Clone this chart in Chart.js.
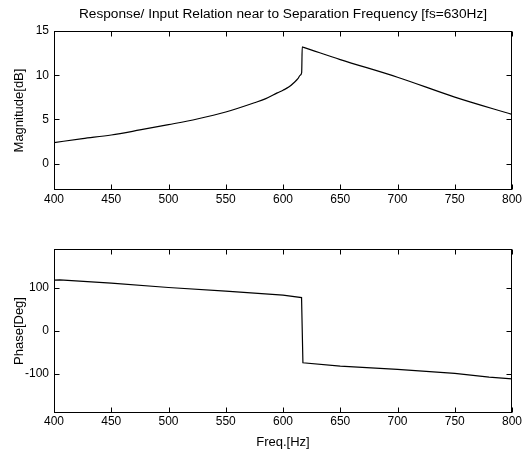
<!DOCTYPE html>
<html>
<head>
<meta charset="utf-8">
<script src="https://cdn.jsdelivr.net/npm/chart.js@4/dist/chart.umd.min.js"></script>
<style>
  html, body { margin: 0; padding: 0; background: #fff; }
  #wrap { position: relative; width: 528px; height: 454px; overflow: hidden; }
  canvas { position: absolute; left: 0; }
  #c1 { top: 0; }
  #c2 { top: 227px; }
</style>
</head>
<body>
<div id="wrap">
  <canvas id="c1" width="528" height="227"></canvas>
  <canvas id="c2" width="528" height="227"></canvas>
</div>
<script>
// ---- data ----
const magFreq = [400, 425, 450, 475, 500, 525, 550, 575, 585, 595, 600, 605, 610, 613, 615, 616.3, 616.8, 618, 650, 700, 750, 800];
const magDb   = [2.37, 2.82, 3.23, 3.80, 4.40, 5.04, 5.83, 6.88, 7.35, 8.0, 8.3, 8.65, 9.2, 9.6, 10.0, 10.3, 13.2, 13.15, 11.77, 9.77, 7.52, 5.56];

const phFreq = [400, 405, 450, 500, 550, 600, 616.2, 617.4, 650, 700, 750, 780, 800];
const phDeg  = [117.8, 118.5, 110.9, 100.8, 92.2, 83.0, 77.5, -73.6, -81.4, -89.0, -98.4, -107.0, -111.0];

const freqTicks = [400, 450, 500, 550, 600, 650, 700, 750, 800];
const magTicks  = [0, 5, 10, 15];
const phTicks   = [-100, 0, 100];

const titleText = 'Response/ Input Relation near to Separation Frequency [fs=630Hz]';
const magLabel = 'Magnitude[dB]';
const phLabel = 'Phase[Deg]';
const freqLabel = 'Freq.[Hz]';

// ---- helpers ----
const FONT = "'Liberation Sans', Arial, sans-serif";
Chart.defaults.font.family = FONT;
Chart.defaults.color = '#000';

const boxTicks = {
  id: 'boxTicks',
  afterDatasetsDraw(chart) {
    const {ctx, chartArea: a, scales: {x, y}} = chart;
    const L = Math.round(a.left) + 0.5, R = Math.round(a.right) - 0.5;
    const T = Math.round(a.top) + 0.5, B = Math.round(a.bottom) - 0.5;
    const tl = 5;
    ctx.save();
    ctx.strokeStyle = '#000';
    ctx.lineWidth = 1;
    ctx.strokeRect(L, T, R - L, B - T);
    ctx.beginPath();
    x.ticks.forEach(t => {
      const px = Math.round(x.getPixelForValue(t.value)) + 0.5;
      ctx.moveTo(px, B); ctx.lineTo(px, B - tl);
      ctx.moveTo(px, T); ctx.lineTo(px, T + tl);
    });
    y.ticks.forEach(t => {
      const py = Math.round(y.getPixelForValue(t.value)) + 0.5;
      ctx.moveTo(L, py); ctx.lineTo(L + tl, py);
      ctx.moveTo(R, py); ctx.lineTo(R - tl, py);
    });
    ctx.stroke();
    ctx.restore();
  }
};

function pts(xs, ys) { return xs.map((v, i) => ({x: v, y: ys[i]})); }

function makeChart(id, cfg) {
  return new Chart(document.getElementById(id), {
    type: 'line',
    data: {
      datasets: [{
        data: pts(cfg.xs, cfg.ys),
        borderColor: '#000',
        borderWidth: 1.2,
        pointRadius: 0,
        cubicInterpolationMode: cfg.smooth ? 'monotone' : 'default',
        tension: 0,
        fill: false
      }]
    },
    options: {
      responsive: false,
      animation: false,
      devicePixelRatio: 1,
      layout: { padding: { left: 0, right: 16, top: cfg.padTop, bottom: 0 } },
      plugins: {
        legend: { display: false },
        tooltip: { enabled: false },
        title: cfg.title ? {
          display: true,
          fullSize: false,
          text: cfg.title,
          color: '#000',
          font: { size: 13.7, weight: 'normal', family: FONT },
          padding: { top: 6, bottom: 8.6 }
        } : { display: false }
      },
      scales: {
        x: {
          type: 'linear',
          min: 400, max: 800,
          grid: { display: false, drawTicks: false },
          border: { display: false },
          afterFit: s => { s.height = cfg.xHeight; },
          afterBuildTicks: s => { s.ticks = freqTicks.map(v => ({value: v})); },
          ticks: { padding: cfg.xPad, font: { size: 12 }, color: '#000', maxRotation: 0, autoSkip: false },
          title: cfg.xTitle ? {
            display: true, text: cfg.xTitle, color: '#000',
            font: { size: 13 }, padding: { top: 0, bottom: 4.2 }
          } : { display: false }
        },
        y: {
          type: 'linear',
          min: cfg.yMin, max: cfg.yMax,
          grid: { display: false, drawTicks: false },
          border: { display: false },
          afterFit: s => { s.width = 54; },
          afterBuildTicks: s => { s.ticks = cfg.yTicks.map(v => ({value: v})); },
          ticks: { padding: 5, font: { size: 12 }, color: '#000', autoSkip: false },
          title: {
            display: true, text: cfg.yTitle, color: '#000',
            font: { size: 13 }, padding: { top: 12, bottom: 0 }
          }
        }
      }
    },
    plugins: [boxTicks]
  });
}

makeChart('c1', {
  xs: magFreq, ys: magDb, smooth: true,
  yMin: -3, yMax: 15, yTicks: magTicks,
  yTitle: magLabel, title: titleText,
  padTop: 0, xHeight: 37, xPad: 2
});

makeChart('c2', {
  xs: phFreq, ys: phDeg, smooth: false,
  yMin: -190, yMax: 190, yTicks: phTicks,
  yTitle: phLabel, xTitle: freqLabel,
  padTop: 22, xHeight: 41, xPad: 1
});
</script>
</body>
</html>
